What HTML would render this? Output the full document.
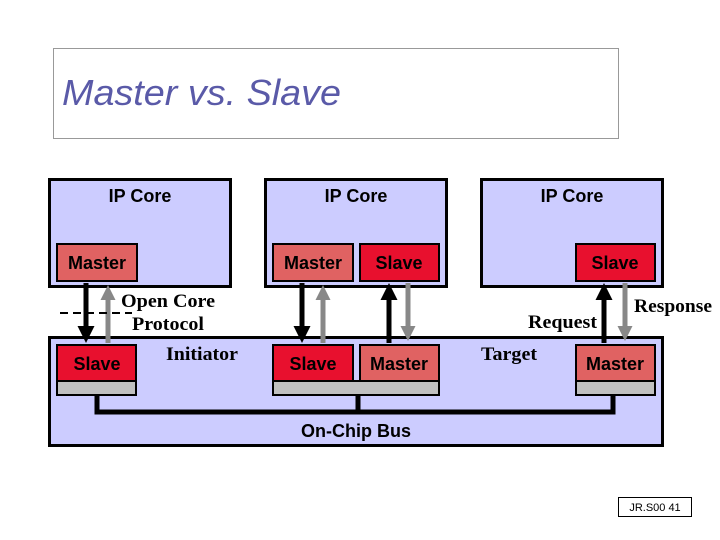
<!DOCTYPE html>
<html><head><style>body{margin:0;background:#fff}svg{display:block}</style></head><body>
<svg width="720" height="540" viewBox="0 0 720 540" xmlns="http://www.w3.org/2000/svg">
<defs>
<marker id="ab" markerWidth="3.4" markerHeight="3.4" refX="2" refY="1.7" orient="auto" markerUnits="strokeWidth"><path d="M0,0L3.4,1.7L0,3.4z" fill="#000"/></marker>
<marker id="ag" markerWidth="3" markerHeight="3" refX="2" refY="1.5" orient="auto" markerUnits="strokeWidth"><path d="M0,0L3,1.5L0,3z" fill="#888"/></marker>
</defs>
<rect x="53.5" y="48.5" width="565" height="90" fill="none" stroke="#333" stroke-dasharray="1,1"/>
<text x="62" y="105" font-family="Liberation Sans, sans-serif" font-size="36" font-style="italic" fill="#5a5aa8" textLength="279" lengthAdjust="spacingAndGlyphs">Master vs. Slave</text>
<g stroke="#000" stroke-width="3" fill="#ccccff">
<rect x="49.5" y="179.5" width="181" height="107"/>
<rect x="265.5" y="179.5" width="181" height="107"/>
<rect x="481.5" y="179.5" width="181" height="107"/>
<rect x="49.5" y="337.5" width="613" height="108"/>
</g>
<g font-family="Liberation Sans, sans-serif" font-size="18" font-weight="bold" text-anchor="middle" fill="#000">
<text x="140" y="202">IP Core</text><text x="356" y="202">IP Core</text><text x="572" y="202">IP Core</text>
<text x="356" y="437">On-Chip Bus</text>
</g>
<g stroke="#000" stroke-width="2">
<rect x="57" y="244" width="80" height="37" fill="#e06262"/>
<rect x="273" y="244" width="80" height="37" fill="#e06262"/>
<rect x="360" y="244" width="79" height="37" fill="#e8102e"/>
<rect x="576" y="244" width="79" height="37" fill="#e8102e"/>
<rect x="57" y="345" width="79" height="36" fill="#e8102e"/>
<rect x="273" y="345" width="80" height="36" fill="#e8102e"/>
<rect x="360" y="345" width="79" height="36" fill="#e06262"/>
<rect x="576" y="345" width="79" height="36" fill="#e06262"/>
<rect x="57" y="381" width="79" height="14" fill="#c0c0c0"/>
<rect x="273" y="381" width="166" height="14" fill="#c0c0c0"/>
<rect x="576" y="381" width="79" height="14" fill="#c0c0c0"/>
</g>
<g font-family="Liberation Sans, sans-serif" font-size="18" font-weight="bold" text-anchor="middle" fill="#000">
<text x="97" y="269">Master</text><text x="313" y="269">Master</text><text x="399" y="269">Slave</text><text x="615" y="269">Slave</text>
<text x="97" y="370">Slave</text><text x="313" y="370">Slave</text><text x="399" y="370">Master</text><text x="615" y="370">Master</text>
</g>
<path d="M97,395V412H613V395M358,395V412" fill="none" stroke="#000" stroke-width="5"/>
<g stroke-width="5" fill="none">
<line x1="86" y1="283" x2="86" y2="336" stroke="#000" marker-end="url(#ab)"/>
<line x1="108" y1="343" x2="108" y2="290" stroke="#888" marker-end="url(#ag)"/>
<line x1="302" y1="283" x2="302" y2="336" stroke="#000" marker-end="url(#ab)"/>
<line x1="323" y1="343" x2="323" y2="290" stroke="#888" marker-end="url(#ag)"/>
<line x1="389" y1="343" x2="389" y2="290" stroke="#000" marker-end="url(#ab)"/>
<line x1="408" y1="283" x2="408" y2="336" stroke="#888" marker-end="url(#ag)"/>
<line x1="604" y1="343" x2="604" y2="290" stroke="#000" marker-end="url(#ab)"/>
<line x1="625" y1="283" x2="625" y2="336" stroke="#888" marker-end="url(#ag)"/>
</g>
<line x1="60" y1="313" x2="132" y2="313" stroke="#000" stroke-width="2" stroke-dasharray="8,5"/>
<g font-family="Liberation Serif, serif" font-size="19" font-weight="bold" fill="#000" lengthAdjust="spacingAndGlyphs">
<text x="121" y="307" textLength="94" lengthAdjust="spacingAndGlyphs">Open Core</text><text x="132" y="330" textLength="72" lengthAdjust="spacingAndGlyphs">Protocol</text>
<text x="166" y="360" textLength="72" lengthAdjust="spacingAndGlyphs">Initiator</text><text x="481" y="360" textLength="56" lengthAdjust="spacingAndGlyphs">Target</text>
<text x="528" y="328" textLength="69" lengthAdjust="spacingAndGlyphs">Request</text><text x="634" y="312" textLength="78" lengthAdjust="spacingAndGlyphs">Response</text>
</g>
<rect x="618.5" y="497.5" width="73" height="19" fill="none" stroke="#000"/>
<text x="655" y="511" font-family="Liberation Sans, sans-serif" font-size="11" text-anchor="middle">JR.S00 41</text>
</svg>
</body></html>
